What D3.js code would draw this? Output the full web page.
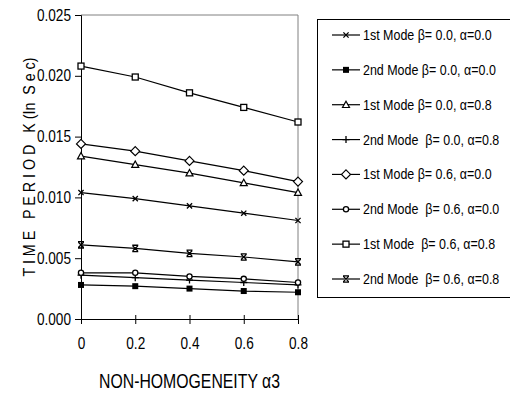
<!DOCTYPE html>
<html>
<head>
<meta charset="utf-8">
<script src="https://cdn.jsdelivr.net/npm/d3@7"></script>
<style>
  body { margin: 0; background: #fff; }
  text { font-family: "Liberation Sans", Arial, sans-serif; }
</style>
</head>
<body>
<svg id="chart" width="510" height="394"></svg>
<script>
var xVals = [0, 0.2, 0.4, 0.6, 0.8];
var xTickLabels = ["0", "0.2", "0.4", "0.6", "0.8"];
var yTicks = [0, 0.005, 0.01, 0.015, 0.02, 0.025];

var seriesNames = [
  "1st Mode \u03b2= 0.0, \u03b1=0.0",
  "2nd Mode \u03b2= 0.0, \u03b1=0.0",
  "1st Mode \u03b2= 0.0, \u03b1=0.8",
  "2nd Mode  \u03b2= 0.0, \u03b1=0.8",
  "1st Mode \u03b2= 0.6, \u03b1=0.0",
  "2nd Mode  \u03b2= 0.6, \u03b1=0.0",
  "1st Mode  \u03b2= 0.6, \u03b1=0.8",
  "2nd Mode  \u03b2= 0.6, \u03b1=0.8"
];
var markers = ["x", "fsquare", "triangle", "plus", "diamond", "circle", "square", "star"];

var s1 = [0.0104, 0.0099, 0.0093, 0.0087, 0.0081];
var s2 = [0.0028, 0.0027, 0.0025, 0.0023, 0.0022];
var s3 = [0.0134, 0.0127, 0.0120, 0.0112, 0.0104];
var s4 = [0.0036, 0.0034, 0.0032, 0.0030, 0.0028];
var s5 = [0.0144, 0.0138, 0.0130, 0.0122, 0.0113];
var s6 = [0.0038, 0.0038, 0.0035, 0.0033, 0.0030];
var s7 = [0.0208, 0.0199, 0.0186, 0.0174, 0.0162];
var s8 = [0.0061, 0.0058, 0.0054, 0.0051, 0.0047];
var allSeries = [s1, s2, s3, s4, s5, s6, s7, s8];

var svg = d3.select("#chart");
var pLeft = 81, pRight = 298, pTop = 15, pBottom = 319;

var x = d3.scaleLinear().domain([0, 0.8]).range([pLeft, pRight]);
var y = d3.scaleLinear().domain([0, 0.025]).range([pBottom, pTop]);

// squeeze text horizontally to look like a narrow font
function condense(sel, factor) {
  sel.each(function () {
    var w = this.getComputedTextLength();
    d3.select(this).attr("textLength", w * factor).attr("lengthAdjust", "spacingAndGlyphs");
  });
}

// plot frame (grey top/right)
svg.append("path")
  .attr("d", "M" + pLeft + "," + pTop + "H" + pRight + "V" + pBottom)
  .attr("fill", "none").attr("stroke", "#808080").attr("stroke-width", 1);

// y axis
var yAxis = svg.append("g")
  .attr("transform", "translate(" + pLeft + ",0)")
  .call(d3.axisLeft(y).tickValues(yTicks).tickSize(6).tickPadding(4)
    .tickFormat(d3.format(".3f")));
yAxis.select(".domain").attr("stroke", "#000");
yAxis.selectAll("text").style("font-size", "16px").attr("fill", "#000");
condense(yAxis.selectAll("text"), 0.85);

// x axis (ticks cross the line)
var xAxis = svg.append("g")
  .attr("transform", "translate(0," + pBottom + ")")
  .call(d3.axisBottom(x).tickValues(xVals).tickSize(5).tickPadding(14)
    .tickFormat(function (d, i) { return xTickLabels[i]; }));
xAxis.select(".domain").attr("stroke", "#000");
xAxis.selectAll(".tick line").attr("y1", -4);
xAxis.selectAll("text").style("font-size", "16px").attr("fill", "#000");
condense(xAxis.selectAll("text"), 0.85);

// axis titles
svg.append("text")
  .attr("x", x(0.4)).attr("y", 388)
  .attr("text-anchor", "middle")
  .style("font-size", "20px")
  .attr("textLength", 181).attr("lengthAdjust", "spacingAndGlyphs")
  .text("NON-HOMOGENEITY \u03b13");

svg.append("text")
  .attr("transform", "translate(35," + ((pTop + pBottom) / 2) + ") rotate(-90)")
  .attr("text-anchor", "middle")
  .style("font-size", "16px")
  .style("white-space", "pre")
  .attr("textLength", 219).attr("lengthAdjust", "spacingAndGlyphs")
  .text("T I M E   P E R I O D   K (In  S e c)");

function drawMarker(g, type, cx, cy) {
  var s = 2.6;
  if (type === "x") {
    g.append("path").attr("d", "M" + (cx - s) + "," + (cy - s) + "L" + (cx + s) + "," + (cy + s) +
      "M" + (cx - s) + "," + (cy + s) + "L" + (cx + s) + "," + (cy - s))
      .attr("stroke", "#000").attr("stroke-width", 1.3);
  } else if (type === "fsquare") {
    g.append("rect").attr("x", cx - 3).attr("y", cy - 3).attr("width", 6).attr("height", 6).attr("fill", "#000");
  } else if (type === "triangle") {
    g.append("path").attr("d", "M" + cx + "," + (cy - 3.5) + "L" + (cx + 3.5) + "," + (cy + 2.8) + "L" + (cx - 3.5) + "," + (cy + 2.8) + "Z")
      .attr("fill", "#fff").attr("stroke", "#000").attr("stroke-width", 1.2);
  } else if (type === "plus") {
    g.append("path").attr("d", "M" + (cx - 3.5) + "," + cy + "H" + (cx + 3.5) + "M" + cx + "," + (cy - 3.5) + "V" + (cy + 3.5))
      .attr("stroke", "#000").attr("stroke-width", 1.3);
  } else if (type === "diamond") {
    g.append("path").attr("d", "M" + cx + "," + (cy - 4.5) + "L" + (cx + 4.5) + "," + cy + "L" + cx + "," + (cy + 4.5) + "L" + (cx - 4.5) + "," + cy + "Z")
      .attr("fill", "#fff").attr("stroke", "#000").attr("stroke-width", 1.2);
  } else if (type === "circle") {
    g.append("circle").attr("cx", cx).attr("cy", cy).attr("r", 2.6)
      .attr("fill", "#fff").attr("stroke", "#000").attr("stroke-width", 1.3);
  } else if (type === "square") {
    g.append("rect").attr("x", cx - 3).attr("y", cy - 3).attr("width", 6).attr("height", 6)
      .attr("fill", "#fff").attr("stroke", "#000").attr("stroke-width", 1.3);
  } else if (type === "star") {
    g.append("path").attr("d", "M" + (cx - s) + "," + (cy - s) + "L" + (cx + s) + "," + (cy + s) +
      "M" + (cx - s) + "," + (cy + s) + "L" + (cx + s) + "," + (cy - s) +
      "M" + (cx - 3) + "," + (cy - 3.2) + "H" + (cx + 3) + "M" + (cx - 3) + "," + (cy + 3.2) + "H" + (cx + 3))
      .attr("stroke", "#000").attr("stroke-width", 1.3);
  }
}

var line = d3.line()
  .x(function (d, i) { return x(xVals[i]); })
  .y(function (d) { return y(d); });

var plot = svg.append("g");
allSeries.forEach(function (vals) {
  plot.append("path").datum(vals)
    .attr("d", line)
    .attr("fill", "none").attr("stroke", "#000").attr("stroke-width", 1.2);
});
allSeries.forEach(function (vals, k) {
  vals.forEach(function (v, i) {
    drawMarker(plot, markers[k], x(xVals[i]), y(v));
  });
});

// legend (box runs off the right edge, as in the original)
svg.append("rect")
  .attr("x", 317.5).attr("y", 19.5).attr("width", 200).attr("height", 278)
  .attr("fill", "#fff").attr("stroke", "#000").attr("stroke-width", 1);

var legY = d3.scaleLinear().domain([0, 7]).range([35, 279]);
seriesNames.forEach(function (name, k) {
  var ly = legY(k);
  var g = svg.append("g");
  g.append("line").attr("x1", 332).attr("x2", 360).attr("y1", ly).attr("y2", ly)
    .attr("stroke", "#000").attr("stroke-width", 1.2);
  drawMarker(g, markers[k], 346, ly);
  g.append("text")
    .attr("transform", "translate(363," + (ly + 5) + ") scale(0.89,1)")
    .style("font-size", "14px")
    .style("white-space", "pre")
    .text(name);
});
</script>
</body>
</html>
